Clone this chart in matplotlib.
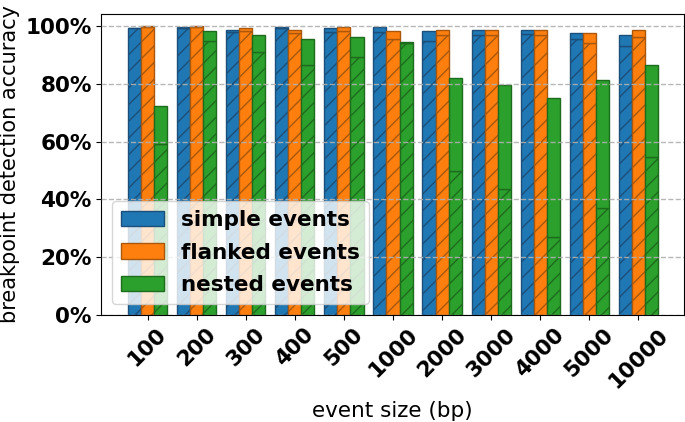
import matplotlib
matplotlib.use("Agg")
import matplotlib.pyplot as plt
import numpy as np
from matplotlib.ticker import PercentFormatter

categories = ["100", "200", "300", "400", "500", "1000", "2000", "3000", "4000", "5000", "10000"]
series_names = ["simple events", "flanked events", "nested events"]

# total accuracy (top of bar) and hatched (lower) part, in percent
simple_total = [99.6, 99.8, 98.9, 99.8, 99.3, 99.8, 98.6, 98.9, 98.7, 97.9, 97.1]
simple_hatched = [99.5, 99.6, 98.1, 99.3, 98.1, 98.2, 95.1, 97.2, 97.3, 95.8, 93.1]
flanked_total = [100.0, 100.0, 99.5, 98.9, 99.7, 98.4, 98.9, 98.9, 98.9, 97.7, 98.7]
flanked_hatched = [99.9, 99.9, 98.6, 97.9, 98.6, 95.8, 97.1, 97.2, 97.2, 94.1, 96.5]
nested_total = [72.3, 98.6, 97.2, 95.8, 96.5, 94.6, 82.3, 79.8, 75.2, 81.6, 86.7]
nested_hatched = [59.1, 95.1, 91.2, 86.6, 89.4, 94.3, 49.9, 43.5, 26.9, 36.9, 54.9]

totals = [simple_total, flanked_total, nested_total]
hatched = [simple_hatched, flanked_hatched, nested_hatched]
colors = ["#1f77b4", "#ff7f0e", "#2ca02c"]
edges = ["#1b4f7a", "#a8570c", "#1d6b1d"]

FS = 15.5

fig, ax = plt.subplots(figsize=(6.85, 4.22), dpi=100)
fig.subplots_adjust(left=0.148, right=0.998, top=0.968, bottom=0.254)

x = np.arange(len(categories))
w = 0.267
for i in range(3):
    pos = x + (i - 1) * w
    tot = np.array(totals[i])
    hat = np.array(hatched[i])
    ax.bar(pos, hat, w, color=colors[i], edgecolor=edges[i], hatch="//",
           linewidth=1.0, zorder=1)
    ax.bar(pos, tot - hat, w, bottom=hat, color=colors[i], edgecolor=edges[i],
           linewidth=1.0, zorder=1)
    ax.bar([np.nan], [np.nan], w, color=colors[i], edgecolor=edges[i], linewidth=1.0,
           label=series_names[i])

ax.set_xticks(x)
ax.set_xticklabels(categories, rotation=45, fontsize=FS, fontweight="bold")
ax.set_xlim(-0.94, 10.92)
ax.set_ylim(0, 104.5)
ax.set_yticks([0, 20, 40, 60, 80, 100])
ax.yaxis.set_major_formatter(PercentFormatter(decimals=0))
for t in ax.get_yticklabels():
    t.set_fontweight("bold")
    t.set_fontsize(FS)
ax.set_axisbelow(False)
ax.grid(axis="y", linestyle="--", color="#b0b0b0", linewidth=1.0, alpha=0.9)
ax.set_xlabel("event size (bp)", fontsize=FS, labelpad=7)
ax.set_ylabel("breakpoint detection accuracy", fontsize=15)
ax.legend(loc="lower left", prop={"weight": "bold", "size": FS}, framealpha=0.8,
          labelspacing=0.6)

fig.savefig("out.png", dpi=100)
